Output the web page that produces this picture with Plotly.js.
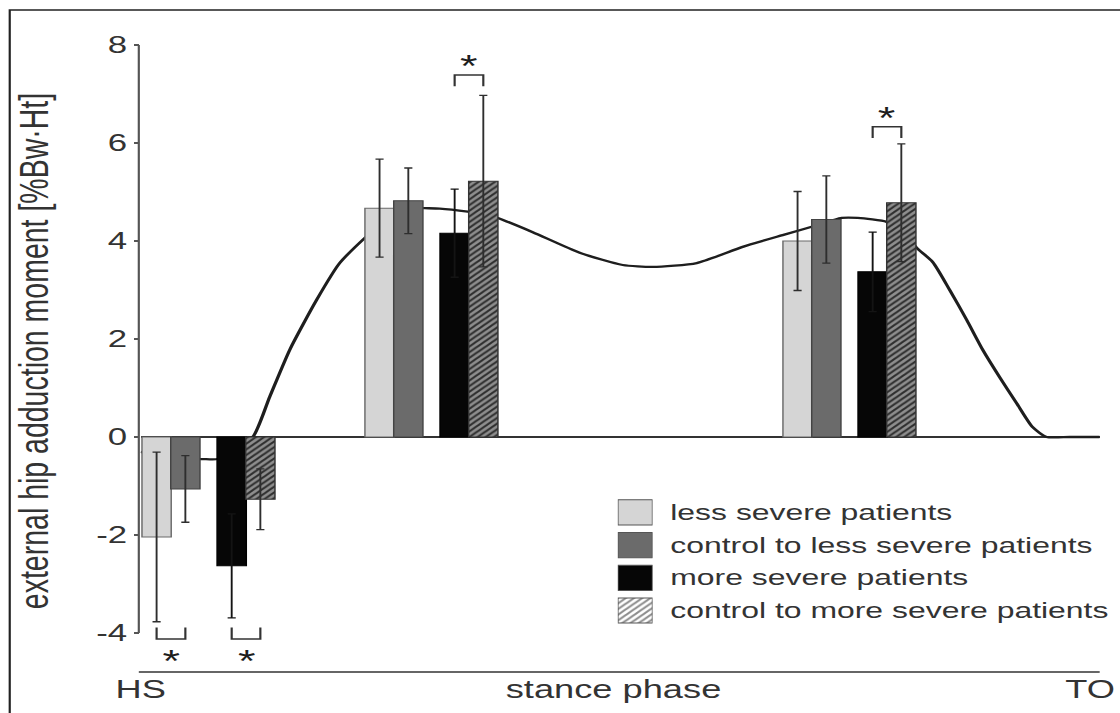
<!DOCTYPE html>
<html>
<head>
<meta charset="utf-8">
<script src="https://cdn.plot.ly/plotly-3.0.1.min.js"></script>
<style>
html,body{margin:0;padding:0;background:#fff;overflow:hidden;}
#wrap{width:1120px;height:713px;overflow:hidden;position:relative;background:#fff;}
#chart{width:772px;height:713px;transform:scaleX(1.450777);transform-origin:0 0;}
</style>
</head>
<body>
<div id="wrap"><div id="chart"></div></div>
<script>
// ---------------- data ----------------
const seriesNames = ['less severe patients', 'control to less severe patients', 'more severe patients', 'control to more severe patients'];
const groupPos = [7.09, 30.34, 73.93];          // % of stance phase
const lessSevere   = [-2.04, 4.67, 4.00];
const lessSevereSD = [1.73, 1.00, 1.01];
const ctrlLess     = [-1.06, 4.82, 4.44];
const ctrlLessSD   = [0.68, 0.67, 0.89];
const moreSevere   = [-2.63, 4.16, 3.37];
const moreSevereSD = [1.06, 0.90, 0.81];
const ctrlMore     = [-1.27, 5.22, 4.78];
const ctrlMoreSD   = [0.62, 1.75, 1.20];

const curveX = [0, 3.13, 6.15, 8.03, 9.80, 11.68, 13.45, 15.54, 18.35, 20.75, 23.46, 25.96, 28.05, 29.61, 31.18, 34.10, 35.87, 37.23, 40.88, 45.78, 50.26, 53.39, 57.98, 62.77, 66.94, 69.97, 73.10, 74.77, 77.79, 79.35, 80.92, 82.59, 84.36, 86.13, 87.80, 89.57, 91.34, 93.01, 94.47, 96.87, 100];
const curveY = [-0.3, -0.5, -0.45, -0.45, -0.2, 0, 0.82, 1.78, 2.8, 3.55, 4.08, 4.5, 4.68, 4.67, 4.66, 4.6, 4.55, 4.47, 4.18, 3.76, 3.51, 3.47, 3.55, 3.88, 4.12, 4.29, 4.47, 4.47, 4.39, 4.2, 3.86, 3.57, 3.0, 2.39, 1.78, 1.22, 0.69, 0.2, 0, 0, 0];

const yTicks = [8, 6, 4, 2, 0, -2, -4];
const yTickLabels = ['8', '6', '4', '2', '0', '-2', '-4'];
const phaseTicks = [0, 49.3, 99];
const phaseLabels = ['HS', 'stance phase', 'TO'];

// significance brackets: group index, pair (0 = less severe pair, 1 = more severe pair), level
const sigGroup = [0, 0, 1, 2];
const sigPair  = [0, 1, 1, 1];
const sigLevel = [-4.12, -4.12, 7.39, 6.33];

// ---------------- styling ----------------
const values = [lessSevere, ctrlLess, moreSevere, ctrlMore];
const sds = [lessSevereSD, ctrlLessSD, moreSevereSD, ctrlMoreSD];
const offsets = [-6.96, -3.96, 0.87, 3.86];
const barW = 3.05;
const fills = ['#d5d5d5', '#6b6b6b', '#060606', '#8c8c8c'];
const edges = ['#6a6a6a', '#444444', '#000000', '#333333'];
const errColors = ['#2e2e2e', '#2e2e2e', '#141414', '#2e2e2e'];
const patterns = ['', '', '', '/'];
const HATCH_BG = '#8e8e8e', HATCH_FG = '#2e2e2e';
const FONT = 'Liberation Sans, Arial, sans-serif';
const TXT = '#333333';

const traces = [];
traces.push({
  type: 'scatter', mode: 'lines', x: curveX, y: curveY,
  line: {color: '#1e1e1e', width: 2.3, shape: 'spline', smoothing: 0.6},
  zorder: 0, showlegend: false, hoverinfo: 'skip', cliponaxis: true
});
for (let i = 0; i < 4; i++) {
  const marker = {color: fills[i], line: {color: edges[i], width: 1}};
  if (patterns[i]) marker.pattern = {shape: patterns[i], bgcolor: HATCH_BG, fgcolor: HATCH_FG, size: 4, solidity: 0.45};
  traces.push({
    type: 'bar', name: seriesNames[i], x: groupPos, y: values[i],
    offset: offsets[i], width: barW, marker: marker,
    error_y: {type: 'data', array: sds[i], visible: true, color: errColors[i], thickness: 1.3, width: 2.8},
    zorder: 1, showlegend: false, hoverinfo: 'skip'
  });
}
// legend swatches drawn as bars in a small hidden subplot
traces.push({
  type: 'bar', orientation: 'h', x: [1, 1, 1, 1], y: [0, 1, 2, 3], base: 0, width: 0.77,
  marker: {
    color: fills,
    line: {color: fills.map(() => '#555555'), width: 1},
    pattern: {shape: patterns, bgcolor: fills.map(() => HATCH_BG), fgcolor: fills.map(() => HATCH_FG), size: 4, solidity: 0.45}
  },
  xaxis: 'x3', yaxis: 'y3', showlegend: false, hoverinfo: 'skip'
});

const shapes = [];
// y axis line from -4 to 8
shapes.push({type: 'line', xref: 'paper', yref: 'y', x0: -0.002, x1: -0.002, y0: yTicks[yTicks.length - 1], y1: yTicks[0], line: {color: '#555555', width: 1.5}});
// bottom stance-phase line
shapes.push({type: 'line', xref: 'paper', yref: 'paper', x0: -0.002, x1: 1, y0: 0, y1: 0, line: {color: '#333333', width: 1.5}});
// frame
shapes.push({type: 'rect', xref: 'paper', yref: 'paper', x0: -0.1366, x1: 1.2, y0: -0.2, y1: 1.031, line: {color: '#222222', width: 1.5}, fillcolor: 'rgba(0,0,0,0)'});

const annotations = [];
for (let k = 0; k < sigGroup.length; k++) {
  const g = groupPos[sigGroup[k]];
  const a = g + offsets[sigPair[k] * 2] + barW / 2;
  const b = g + offsets[sigPair[k] * 2 + 1] + barW / 2;
  const lvl = sigLevel[k];
  const dir = lvl < 0 ? 1 : -1; // legs point toward the bars
  const leg = 0.23 * dir;
  shapes.push({type: 'path', xref: 'x', yref: 'y',
    path: `M${a},${lvl + leg} L${a},${lvl} L${b},${lvl} L${b},${lvl + leg}`,
    line: {color: '#333333', width: 1.5}});
  annotations.push({xref: 'x', yref: 'y', x: (a + b) / 2, y: lvl - dir * 0.32, text: '*', showarrow: false,
    font: {family: FONT, size: 31, color: '#1e1e1e'}, yanchor: 'middle', xanchor: 'center', yshift: -7});
}
for (let i = 0; i < 4; i++) {
  annotations.push({xref: 'paper', yref: 'y3', x: 0.549, y: i, text: seriesNames[i], showarrow: false,
    xanchor: 'left', yanchor: 'middle', font: {family: FONT, size: 22, color: TXT}});
}

const layout = {
  width: 772, height: 713,
  margin: {l: 97.2, r: 13.8, t: 30, b: 41},
  paper_bgcolor: '#ffffff', plot_bgcolor: 'rgba(0,0,0,0)',
  font: {family: FONT, color: TXT},
  barmode: 'overlay', showlegend: false,
  xaxis: {range: [0, 100], tickvals: phaseTicks, ticktext: phaseLabels, ticks: '', showgrid: false, zeroline: false,
    showline: false, tickfont: {family: FONT, size: 25, color: TXT}, ticklabeloverflow: 'allow', automargin: false, fixedrange: true},
  yaxis: {range: [-4.796, 8.306], tickvals: yTicks, ticktext: yTickLabels, ticks: 'outside', ticklen: 3.5, tickwidth: 1.5, tickcolor: '#555555',
    showgrid: false, showline: false, zeroline: true, zerolinecolor: '#333333', zerolinewidth: 1.5,
    tickfont: {family: FONT, size: 24, color: TXT}, ticklabelstandoff: 0, automargin: false, fixedrange: true,
    title: {text: 'external hip adduction moment [%Bw·Ht]', font: {family: FONT, size: 28.5, color: TXT}, standoff: 24}},
  xaxis3: {domain: [0.4975, 0.5337], range: [0, 1], visible: false, anchor: 'y3', fixedrange: true},
  yaxis3: {domain: [0.0703, 0.274], range: [3.5, -0.5], visible: false, anchor: 'x3', fixedrange: true},
  shapes: shapes, annotations: annotations
};

Plotly.newPlot('chart', traces, layout, {displayModeBar: false, staticPlot: true, responsive: false});
</script>
</body>
</html>
